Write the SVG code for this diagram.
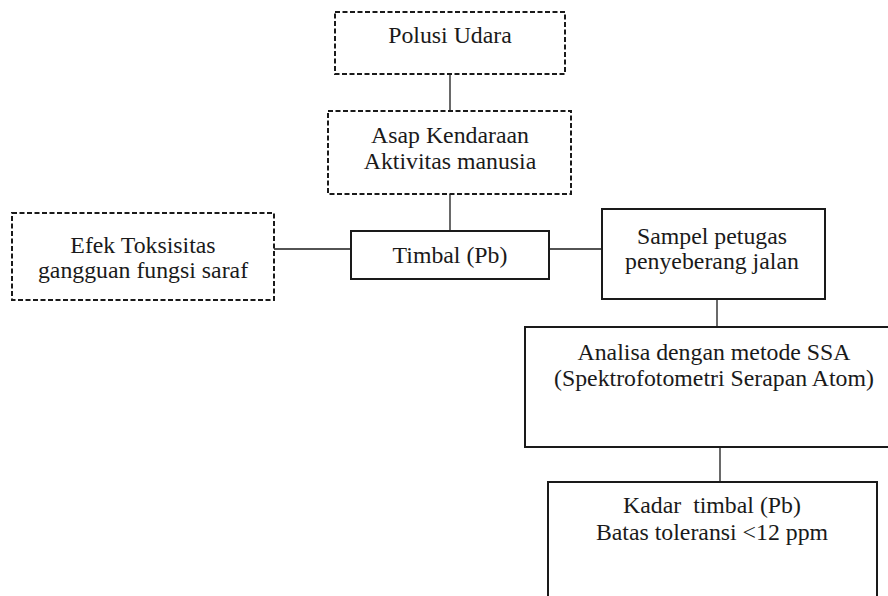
<svg xmlns="http://www.w3.org/2000/svg" width="888" height="596" viewBox="0 0 888 596">
<style>
.box{fill:#fff;stroke:#1a1a1a;stroke-width:2}
.dash{stroke-dasharray:5 2.5}
.lbl{font-size:23.8px;fill:#1a1a1a;text-anchor:middle}
.con{stroke:#1a1a1a;stroke-width:1.3;fill:none}
</style>
<rect width="888" height="596" fill="#fff"/>
<g id="connectors">
<line class="con" x1="450" y1="74" x2="450" y2="111"/>
<line class="con" x1="450" y1="194" x2="450" y2="231"/>
<line class="con" x1="274" y1="249" x2="351" y2="249"/>
<line class="con" x1="549" y1="249" x2="602" y2="249"/>
<line class="con" x1="717" y1="299" x2="717" y2="327"/>
<line class="con" x1="720" y1="447" x2="720" y2="482"/>
</g>
<g font-family="'Liberation Serif', Tinos, 'Times New Roman', 'DejaVu Serif', serif">
<g id="polusi">
<rect class="box dash" x="335" y="12" width="230" height="62"/>
<text class="lbl" x="450" y="43">Polusi Udara</text>
</g>
<g id="asap">
<rect class="box dash" x="328" y="111" width="243" height="83"/>
<text class="lbl" x="450" y="143">Asap Kendaraan</text>
<text class="lbl" x="450" y="169">Aktivitas manusia</text>
</g>
<g id="efek">
<rect class="box dash" x="12" y="213" width="262" height="87"/>
<text class="lbl" x="143" y="253">Efek Toksisitas</text>
<text class="lbl" x="143" y="278">gangguan fungsi saraf</text>
</g>
<g id="timbal">
<rect class="box" x="351" y="231" width="198" height="48"/>
<text class="lbl" x="450" y="263">Timbal (Pb)</text>
</g>
<g id="sampel">
<rect class="box" x="602" y="209" width="223" height="90"/>
<text class="lbl" x="712" y="244">Sampel petugas</text>
<text class="lbl" x="712" y="269">penyeberang jalan</text>
</g>
<g id="analisa">
<rect class="box" x="525" y="327" width="380" height="120"/>
<text class="lbl" x="714" y="360">Analisa dengan metode SSA</text>
<text class="lbl" x="714" y="386">(Spektrofotometri Serapan Atom)</text>
</g>
<g id="kadar">
<rect class="box" x="548" y="482" width="329" height="130"/>
<text class="lbl" x="712" y="513" xml:space="preserve">Kadar  timbal (Pb)</text>
<text class="lbl" x="712" y="540">Batas toleransi &lt;12 ppm</text>
</g>
</g>
</svg>
